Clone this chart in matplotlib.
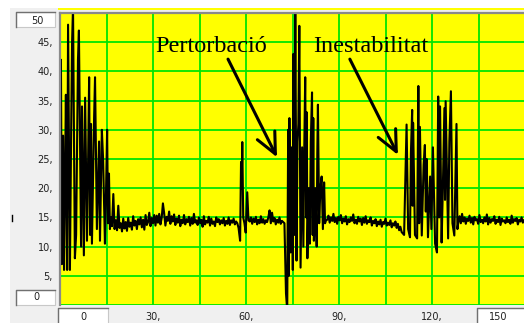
import numpy as np
import matplotlib
matplotlib.use('Agg')
import matplotlib.pyplot as plt
from matplotlib.patches import Rectangle
from matplotlib.lines import Line2D

# --- data (time in s, value) ---
burst1_t = [0.0, 0.3, 0.6, 1.0, 1.3, 1.6, 1.9, 2.3, 2.6, 3.2,
            3.6, 3.9, 4.2, 4.8, 5.2, 5.8, 6.1, 6.8, 7.1, 7.7,
            8.1, 8.7, 9.1, 9.4, 9.7, 10.0, 10.3, 11.0, 11.3, 11.9,
            12.3, 12.6, 12.9, 13.5, 13.9, 14.5, 14.8, 15.2, 15.5, 15.8,
            16.1, 16.5]
burst1_v = [27, 42, 7, 29, 6, 20, 36, 6, 48, 6,
            30, 45, 51, 8, 12, 42, 47, 10, 34, 8.5,
            35.5, 11, 26, 39, 12, 31, 10.5, 32, 39, 13,
            22, 28, 11, 30, 25, 10.5, 18, 30, 14, 22.5,
            13, 15]

base1_start = 16.8
base1_v = [13.5, 19.0, 13.0, 14.5, 12.8, 17.0, 13.2, 14.0, 12.6, 14.8,
           13.1, 14.2, 12.7, 14.9, 13.4, 14.1, 12.9, 15.2, 13.6, 14.4,
           13.0, 14.7, 13.8, 15.0, 13.3, 14.6, 12.9, 15.4, 13.7, 14.2,
           15.8, 13.5, 14.9, 14.0, 15.4, 13.6, 15.3, 14.1, 15.6, 13.8,
           14.9, 17.4, 15.7, 13.6, 15.1, 14.4, 16.0, 13.9, 15.2, 14.3,
           15.5, 13.7, 14.8, 14.1, 15.3, 13.5, 14.6, 14.0, 15.4, 13.8,
           14.7, 14.2, 15.1, 13.6, 14.9, 13.9, 15.6, 14.1, 14.5, 13.7,
           15.0, 14.0, 14.6, 13.4, 15.2, 13.8, 14.4, 14.1, 15.1, 13.6,
           14.8, 13.9, 14.3, 13.5, 15.0, 14.2, 14.7, 13.8, 14.5, 14.0,
           14.9, 13.6, 14.4, 13.9, 15.0, 13.7, 14.5, 14.1, 14.8, 13.8,
           14.3, 14.0, 13.2]

spike_t = [58.1, 58.4, 58.6, 58.8, 59.1, 59.5, 59.9, 60.4, 60.8]
spike_v = [11, 24.5, 20, 27.9, 15, 14, 12.4, 19.3, 14.5]

base2_start = 61.2
base2_v = [14.3, 15.0, 13.9, 14.8, 14.2, 15.1, 13.8, 14.6, 14.0, 15.2,
           14.1, 14.7, 13.9, 14.5, 14.2, 15.0, 16.2, 14.0, 15.8, 14.3,
           14.9, 13.8, 14.6, 14.1, 15.0, 13.9, 14.4, 14.2, 14.0]

perturb_t = [72.9, 73.3, 73.6, 73.8, 74.0, 74.4, 74.8, 75.1, 75.3, 75.6,
             75.9, 76.3, 76.6, 76.9, 77.2, 77.6, 78.1, 78.5, 78.8, 79.1,
             79.4, 79.6, 79.8, 80.2, 80.6, 80.9, 81.3, 81.5, 81.7, 81.9,
             82.4, 82.8, 83.0, 83.2, 83.6, 84.0, 84.4, 84.8, 85.2, 85.5,
             85.8]
perturb_v = [2, -1, 30, 5, 32, 9, 27, 6, 43, 12,
             51, 7.6, 28, 31, 47.8, 6.4, 27, 10, 27, 39,
             15, 33, 8, 20, 10.5, 28, 36.4, 12, 32, 11,
             20, 10, 26, 34.3, 14, 20, 22, 13, 21, 14,
             14.5]

base3_start = 86.2
base3_v = [14.6, 15.3, 14.1, 15.0, 14.4, 15.6, 14.2, 14.9, 13.9, 15.1,
           14.5, 15.4, 14.0, 14.8, 14.3, 15.2, 13.8, 14.7, 14.2, 15.0,
           14.4, 15.5, 14.0, 14.6, 13.9, 15.1, 14.3, 14.8, 13.7, 14.9,
           14.1, 15.2, 13.9, 14.5, 14.2, 15.0, 13.6, 14.4, 14.0, 14.7,
           13.5, 14.3, 13.8, 14.6, 13.4, 14.2, 13.9, 14.8, 13.6, 14.1,
           13.7, 14.5, 13.3, 14.0, 13.6, 14.3, 13.2, 13.9, 12.8, 13.4,
           12.5]

instab_t = [111.0, 111.5, 111.8, 112.3, 112.9, 113.2, 113.6, 113.75, 113.9, 114.5,
            115.2, 115.6, 115.85, 116.1, 116.7, 117.3, 117.7, 118.0, 118.3, 118.7,
            119.4, 119.8, 120.3, 121.0, 121.6, 122.0, 122.3, 122.6, 123.1, 123.5,
            124.0, 124.2, 124.4, 125.2, 125.6, 126.1, 126.6, 127.2, 127.9, 128.2,
            128.5]
instab_v = [12.0, 24, 30.9, 13, 11.6, 26, 33.4, 17, 31.2, 12,
            11.4, 37.5, 14, 30.5, 11.9, 24, 27.4, 16, 25, 11.6,
            22, 13, 27, 10.5, 9, 35.7, 15, 34, 10.7, 20,
            33.7, 18, 34.9, 11.4, 28, 36.6, 14, 11.9, 31, 13,
            14.2]

base4_start = 128.9
base4_v = [15.2, 14.0, 15.6, 14.3, 15.0, 13.9, 14.8, 14.4, 15.3, 14.1,
           14.9, 13.8, 15.1, 14.5, 14.7, 13.9, 15.4, 14.2, 14.6, 14.0,
           15.0, 14.3, 15.5, 13.8, 14.9, 14.1, 14.7, 14.4, 15.2, 13.9,
           14.6, 14.2, 15.1, 13.7, 14.8, 14.3, 14.5, 14.0, 15.0, 14.2,
           14.6, 13.9, 15.3, 14.1, 14.7, 14.4, 14.9, 13.8, 14.6, 14.3,
           15.0, 14.1, 14.5]
base_step = 0.4

x_ticks = [0, 15, 30, 45, 60, 75, 90, 105, 120, 135, 150]
x_labels = ['', '', '30,', '', '60,', '', '90,', '', '120,', '', '']
y_ticks = [0, 5, 10, 15, 20, 25, 30, 35, 40, 45, 50]
y_labels = ['', '5,', '10,', '15,', '20,', '25,', '30,', '35,', '40,', '45,', '']

notes = ['Pertorbació', 'Inestabilitat']
note_xy = [(30.6, 43.4), (81.6, 43.4)]
arrow_from = [(54.2, 42.1), (93.5, 42.1)]
arrow_to = [(70.0, 25.3), (109.0, 25.7)]


def base_times(start, vals):
    return start + base_step * np.arange(len(vals))


t = np.concatenate([burst1_t, base_times(base1_start, base1_v), spike_t,
                    base_times(base2_start, base2_v), perturb_t,
                    base_times(base3_start, base3_v), instab_t,
                    base_times(base4_start, base4_v)])
v = np.concatenate([burst1_v, base1_v, spike_v, base2_v, perturb_v,
                    base3_v, instab_v, base4_v])

W, H = 524, 323
fig = plt.figure(figsize=(W / 100, H / 100), dpi=100, facecolor='#f0f0f0')


def px(x0, y0, x1, y1):
    # pixel box (top-left origin) -> figure fraction rect
    return (x0 / W, 1 - y1 / H), (x1 - x0) / W, (y1 - y0) / H


# white margins at top / left of the window
for box in [(0, 0, W, 8), (0, 0, 10, H)]:
    xy, w, h = px(*box)
    fig.add_artist(Rectangle(xy, w, h, transform=fig.transFigure,
                             facecolor='white', edgecolor='none'))
xy, w, h = px(58, 8, W, 9.5)
fig.add_artist(Rectangle(xy, w, h, transform=fig.transFigure,
                         facecolor='#ffff00', edgecolor='none'))

ax = fig.add_axes([60 / W, (H - 305) / H, 465 / W, 292 / H])
ax.set_facecolor('#ffff00')
ax.plot(t, v, color='black', lw=1.5)
ax.set_xlim(0, 150)
ax.set_ylim(0, 50)
ax.set_xticks(x_ticks)
ax.set_xticklabels(x_labels)
ax.set_yticks(y_ticks)
ax.set_yticklabels(y_labels)
ax.set_axisbelow(True)
ax.grid(color='#00e600', lw=1.3)
ax.tick_params(length=0, labelsize=7, labelcolor='#202020')
ax.tick_params(axis='y', pad=5)
ax.tick_params(axis='x', pad=5)
for s in ['right', 'bottom']:
    ax.spines[s].set_visible(False)
for s in ['left', 'top']:
    ax.spines[s].set_color('#8a8a8a')
    ax.spines[s].set_linewidth(1.6)

for txt, xy in zip(notes, note_xy):
    ax.text(xy[0], xy[1], txt, family='Liberation Serif', fontsize=17.5,
            color='black', va='baseline', ha='left')
for a, b in zip(arrow_from, arrow_to):
    ax.annotate('', xy=b, xytext=a,
                arrowprops=dict(arrowstyle='->,head_length=0.75,head_width=0.35',
                                lw=2.2, color='black', mutation_scale=20,
                                shrinkA=0, shrinkB=0))

# value boxes for the axis limits
boxes = [((16, 12, 55, 27), '50', 37, 20.5),
         ((16, 290, 55, 305), '0', 36, 297.5),
         ((58, 308, 108, H + 2), '0', 83, 316.5),
         ((477, 308, W + 2, H + 2), '150', 498, 316.5)]
for (x0, y0, x1, y1), lab, cx, cy in boxes:
    xy, w, h = px(x0, y0, x1, y1)
    fig.add_artist(Rectangle(xy, w, h, transform=fig.transFigure,
                             facecolor='white', edgecolor='#c8c8c8', lw=0.8))
    fig.add_artist(Line2D([x0 / W, x0 / W, x1 / W], [1 - y1 / H, 1 - y0 / H, 1 - y0 / H],
                          transform=fig.transFigure, color='#707070', lw=1))
    fig.text(cx / W, 1 - cy / H, lab, fontsize=7, color='#202020',
             ha='center', va='center')

fig.add_artist(Line2D([12 / W, 12 / W], [1 - 215 / H, 1 - 221 / H],
                      transform=fig.transFigure, color='black', lw=1))

fig.savefig('out.png', dpi=100, facecolor=fig.get_facecolor())
